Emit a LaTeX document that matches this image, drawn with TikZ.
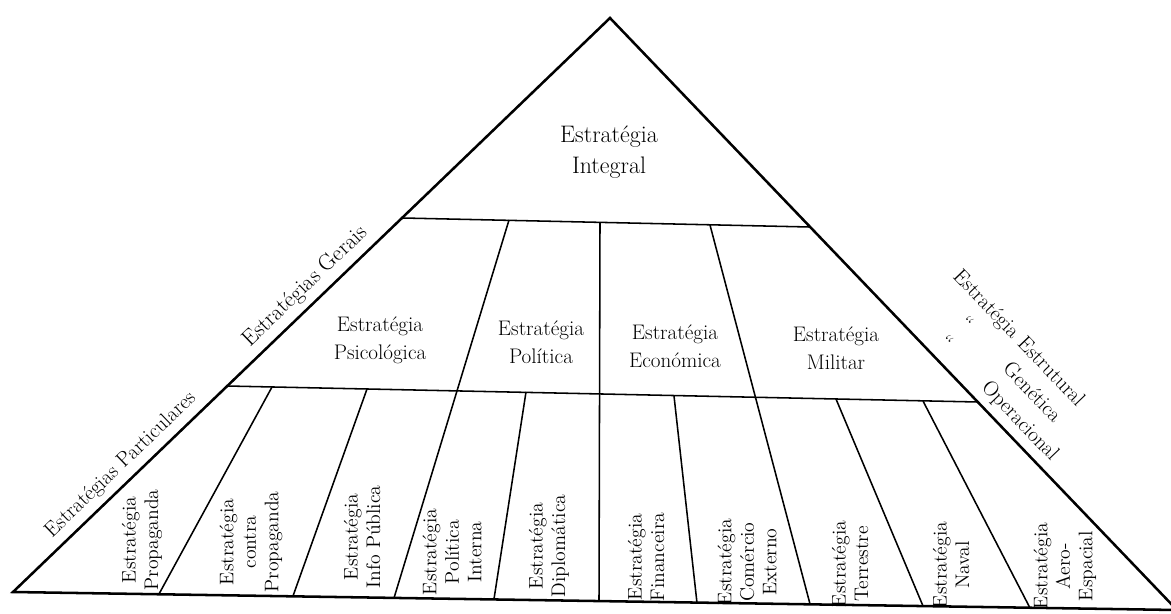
\documentclass[tikz,border=0pt]{standalone}
\usepackage{amsmath,amssymb}
\usepackage{tikz}
\tikzstyle{edge} = [draw,line width=1.8pt,line join=miter]
\tikzstyle{cut} = [draw,line width=1.1pt]
\tikzstyle{big} = [inner sep=2,align=center,font=\fontsize{17}{22}\selectfont]
\tikzstyle{mid} = [inner sep=2,align=center,font=\fontsize{15}{20}\selectfont]
\tikzstyle{low} = [inner sep=2,align=center,rotate=90,font=\fontsize{14}{16}\selectfont]
\tikzstyle{side} = [inner sep=2,font=\fontsize{15}{20}\selectfont]

\begin{document}
\begin{tikzpicture}[x=0.025cm,y=-0.025cm]
    \useasboundingbox (0,0) rectangle (1171,613);

    % corners and tier lines
    \coordinate (A) at (610,18);
    \coordinate (L) at (13,592);
    \coordinate (R) at (1177,610);
    \coordinate (P1) at (403,218);
    \coordinate (Q1) at (810,227);
    \coordinate (P2) at (227,386);
    \coordinate (Q2) at (978,402);

    \draw[edge] (L) -- (A) -- (R) -- cycle;
    \draw[cut] (P1) -- (Q1);
    \draw[cut] (P2) -- (Q2);

    % dividers
    \draw[cut] (509,220) -- (394,598);
    \draw[cut] (600,222) -- (599,601);
    \draw[cut] (710,225) -- (810,604);
    \draw[cut] (272,387) -- (159,594);
    \draw[cut] (367,389) -- (293,596);
    \draw[cut] (526,392) -- (494,599);
    \draw[cut] (674,396) -- (697,603);
    \draw[cut] (836,399) -- (923,606);
    \draw[cut] (923,401) -- (1030,608);

    \node[big] (I) at (609,152) {Estratégia\\Integral};

    \node[mid] (Ps) at (380,340) {Estratégia\\Psicológica};
    \node[mid] (Po) at (541,342) {Estratégia\\Política};
    \node[mid] (Ec) at (675,346) {Estratégia\\Económica};
    \node[mid] (Mi) at (836,348) {Estratégia\\Militar};

    \node[low] (Pg) at (142,540) {Estratégia\\Propaganda};
    \node[low] (Cp) at (251,542) {Estratégia\\contra\\Propaganda};
    \node[low] (In) at (362,537) {Estratégia\\Info Pública};
    \node[low] (Pi) at (452,552) {Estratégia\\Política\\Interna};
    \node[low] (Di) at (549,546) {Estratégia\\Diplomática};
    \node[low] (Fi) at (646,557) {Estratégia\\Financeira};
    \node[low] (Co) at (747,562) {Estratégia\\Comércio\\Externo};
    \node[low] (Te) at (850,564) {Estratégia\\Terrestre};
    \node[low] (Na) at (951,565) {Estratégia\\Naval};
    \node[low] (Ae) at (1065,566) {Estratégia\\Aero-\\Espacial};

    \path (L) -- (A) node[side,pos=0.20,sloped,above=3pt] (EP) {Estratégias Particulares};
    \path (L) -- (A) node[side,pos=0.51,sloped,above=3pt,font=\fontsize{16}{20}\selectfont] (EG) {Estratégias Gerais};
    \path (A) -- (R) node[side,pos=0.64,sloped,above=0pt] (EE)
        {\begin{tabular}{@{}c@{\hspace{5pt}}l@{}}
        Estratégia & Estrutural\\
        “ & \hspace{6pt}Genética\\
        “ & \hspace{5pt}Operacional
        \end{tabular}};

\end{tikzpicture}
\end{document}
